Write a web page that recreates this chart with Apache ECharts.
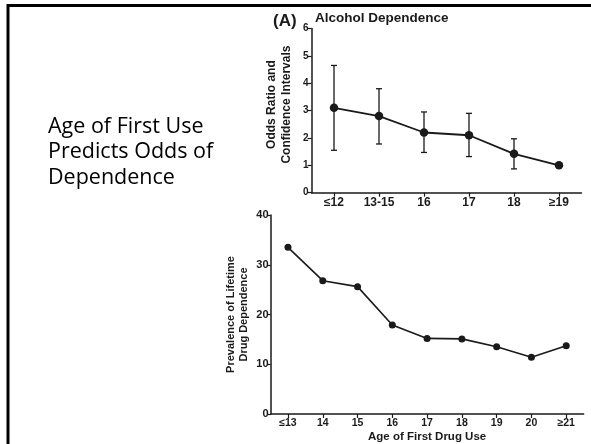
<!DOCTYPE html>
<html><head><meta charset="utf-8">
<script src="https://cdn.jsdelivr.net/npm/echarts@6/dist/echarts.min.js"></script>
<style>html,body{margin:0;padding:0;background:#fff}#c{width:591px;height:444px}</style>
</head><body><div id="c"></div>
<script>
const alcCategories = ['≤12', '13-15', '16', '17', '18', '≥19'];
const alcOdds = [3.1, 2.8, 2.2, 2.1, 1.42, 1.0];
const alcLow = [1.55, 1.78, 1.47, 1.32, 0.87, 1.0];
const alcHigh = [4.65, 3.8, 2.95, 2.9, 1.97, 1.0];
const alcTicks = [0, 1, 2, 3, 4, 5, 6];

const drugCategories = ['≤13', '14', '15', '16', '17', '18', '19', '20', '≥21'];
const drugPrev = [33.5, 26.8, 25.6, 17.9, 15.2, 15.1, 13.5, 11.4, 13.7];
const drugTicks = [0, 10, 20, 30, 40];

const ink = '#1a1a1a';
const fontF = 'Liberation Sans, Arial, sans-serif';

const chart = echarts.init(document.getElementById('c'), null, {renderer: 'canvas'});

const errData = alcCategories.map((c, i) => [i, alcLow[i], alcHigh[i]]);

function axisCommon() {
  return {
    axisLine: {show: true, lineStyle: {color: ink, width: 1.5}},
    axisTick: {show: true, length: 4, lineStyle: {color: ink, width: 1.2}},
    splitLine: {show: false},
    axisLabel: {color: ink, fontFamily: fontF, fontWeight: 'bold', fontSize: 11}
  };
}

chart.setOption({
  animation: false,
  backgroundColor: '#fff',
  title: [
    {text: '(A)', left: 268, top: 8, textStyle: {fontFamily: fontF, fontWeight: 'bold', fontSize: 17, color: ink}},
    {text: 'Alcohol Dependence', left: 310, top: 6.5, textStyle: {fontFamily: fontF, fontWeight: 'bold', fontSize: 13.5, color: ink}},
    {text: 'Age of First Use\nPredicts Odds of\nDependence', left: 43, top: 109,
     textStyle: {fontFamily: 'Open Sans, sans-serif', fontWeight: 'normal', fontSize: 21.5, lineHeight: 25.5, color: '#000'}}
  ],
  graphic: [
    {type: 'line', shape: {x1: 8, y1: 5.5, x2: 591, y2: 5.5}, style: {stroke: '#000', lineWidth: 3}},
    {type: 'line', shape: {x1: 8, y1: 4, x2: 8, y2: 444}, style: {stroke: '#000', lineWidth: 3}}
  ],
  grid: [
    {left: 311.5, right: 9.5, top: 28.5, bottom: 251.3},
    {left: 270.6, right: 7.4, top: 215, bottom: 29.7}
  ],
  xAxis: [
    Object.assign(axisCommon(), {type: 'category', gridIndex: 0, data: alcCategories, boundaryGap: true,
      axisTick: {show: true, alignWithLabel: true, length: 4, lineStyle: {color: ink, width: 1.2}},
      axisLabel: {color: ink, fontFamily: fontF, fontWeight: 'bold', fontSize: 12, margin: 4}}),
    Object.assign(axisCommon(), {type: 'category', gridIndex: 1, data: drugCategories, boundaryGap: true,
      axisTick: {show: true, alignWithLabel: true, length: 4, lineStyle: {color: ink, width: 1.2}},
      axisLabel: {color: ink, fontFamily: fontF, fontWeight: 'bold', fontSize: 10.5, margin: 4},
      name: 'Age of First Drug Use', nameLocation: 'middle', nameGap: 17, nameMoveOverlap: false,
      nameTextStyle: {color: ink, fontFamily: fontF, fontWeight: 'bold', fontSize: 11.5}})
  ],
  yAxis: [
    Object.assign(axisCommon(), {type: 'value', gridIndex: 0, min: alcTicks[0], max: alcTicks[alcTicks.length - 1], interval: 1,
      axisLabel: {color: ink, fontFamily: fontF, fontWeight: 'bold', fontSize: 10, margin: 3},
      name: 'Odds Ratio and\nConfidence Intervals', nameLocation: 'middle', nameGap: 17, nameRotate: 90, nameMoveOverlap: false,
      nameTextStyle: {color: ink, fontFamily: fontF, fontWeight: 'bold', fontSize: 12, lineHeight: 15, padding: [0, 0, 0, 12]}}),
    Object.assign(axisCommon(), {type: 'value', gridIndex: 1, min: drugTicks[0], max: drugTicks[drugTicks.length - 1], interval: 10,
      axisTick: {show: true, length: 3, lineStyle: {color: ink, width: 1.2}},
      axisLabel: {color: ink, fontFamily: fontF, fontWeight: 'bold', fontSize: 11, margin: 2},
      name: 'Prevalence of Lifetime\nDrug Dependence', nameLocation: 'middle', nameGap: 20, nameRotate: 90, nameMoveOverlap: false,
      nameTextStyle: {color: ink, fontFamily: fontF, fontWeight: 'bold', fontSize: 11, lineHeight: 13}})
  ],
  series: [
    {
      type: 'custom', xAxisIndex: 0, yAxisIndex: 0, data: errData, z: 3,
      renderItem: function (params, api) {
        const x = api.value(0);
        const lo = api.coord([x, api.value(1)]);
        const hi = api.coord([x, api.value(2)]);
        const hw = 3;
        return {type: 'group', children: [
          {type: 'line', shape: {x1: lo[0], y1: lo[1], x2: hi[0], y2: hi[1]}, style: {stroke: ink, lineWidth: 1.3}},
          {type: 'line', shape: {x1: lo[0] - hw, y1: lo[1], x2: lo[0] + hw, y2: lo[1]}, style: {stroke: ink, lineWidth: 1.3}},
          {type: 'line', shape: {x1: hi[0] - hw, y1: hi[1], x2: hi[0] + hw, y2: hi[1]}, style: {stroke: ink, lineWidth: 1.3}}
        ]};
      }
    },
    {
      type: 'line', xAxisIndex: 0, yAxisIndex: 0, data: alcOdds, z: 4,
      symbol: 'circle', symbolSize: 8.5, lineStyle: {color: ink, width: 1.8},
      itemStyle: {color: ink}
    },
    {
      type: 'line', xAxisIndex: 1, yAxisIndex: 1, data: drugPrev, z: 4,
      symbol: 'circle', symbolSize: 7, lineStyle: {color: ink, width: 1.6},
      itemStyle: {color: ink}
    }
  ]
});
</script></body></html>
